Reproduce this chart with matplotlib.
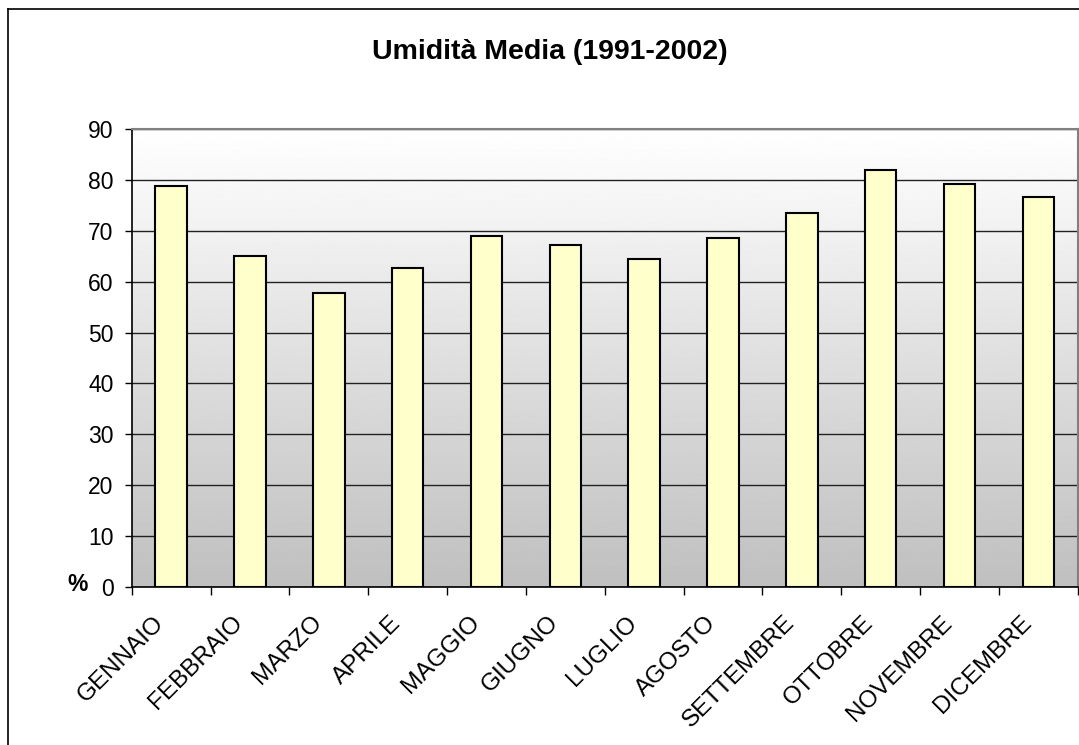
import numpy as np
import matplotlib.pyplot as plt
import matplotlib.transforms as mtransforms
from matplotlib.lines import Line2D

# Dati: umidità media mensile (%)
mesi = ['GENNAIO', 'FEBBRAIO', 'MARZO', 'APRILE', 'MAGGIO', 'GIUGNO',
        'LUGLIO', 'AGOSTO', 'SETTEMBRE', 'OTTOBRE', 'NOVEMBRE', 'DICEMBRE']
umidita = [78.8, 65.1, 57.8, 62.7, 69.0, 67.3, 64.4, 68.7, 73.5, 82.0, 79.2, 76.7]
y_ticks = [0, 10, 20, 30, 40, 50, 60, 70, 80, 90]

plt.rcParams['font.family'] = ['Liberation Sans', 'DejaVu Sans']

fig = plt.figure(figsize=(10.79, 7.45), dpi=100)
ax = fig.add_axes([0.1221, 0.2125, 0.8767, 0.6139])

x = np.arange(len(mesi))

# sfondo sfumato (bianco in alto, grigio in basso)
grad = np.linspace(1.0, 0.75, 256).reshape(-1, 1)
ax.imshow(grad, cmap='gray', vmin=0, vmax=1, aspect='auto',
          extent=[0, 1, 0, 1], transform=ax.transAxes, zorder=0)

ax.bar(x, umidita, width=0.4, color='#ffffcc', edgecolor='black',
       linewidth=1.5, zorder=3)

ax.set_xlim(-0.5, len(mesi) - 0.5)
ax.set_ylim(0, 90)
ax.set_yticks(y_ticks)
ax.yaxis.grid(True, color='#222222', linewidth=1.0, zorder=1)
ax.set_axisbelow(True)

ax.tick_params(axis='y', labelsize=16.5, length=5, width=1, pad=8, direction='out')

# etichette x centrate sulle barre, tacche tra le categorie
ax.set_xticks(x)
ax.set_xticklabels(mesi, rotation=45, ha='right', rotation_mode='anchor', fontsize=17.5)
ax.tick_params(axis='x', which='major', length=0, pad=18)
ax.set_xticks(np.arange(len(mesi) + 1) - 0.5, minor=True)
ax.tick_params(axis='x', which='minor', length=6, width=1, direction='out')
offset = mtransforms.ScaledTranslation(-13 / 72, 0, fig.dpi_scale_trans)
for lab in ax.get_xticklabels():
    lab.set_transform(lab.get_transform() + offset)

for s in ['left', 'bottom']:
    ax.spines[s].set_color('black')
    ax.spines[s].set_linewidth(1.2)
for s in ['top', 'right']:
    ax.spines[s].set_color('#808080')
    ax.spines[s].set_linewidth(1.5)

fig.text(0.5097, 0.930, 'Umidità Media (1991-2002)', ha='center', va='center',
         fontsize=20.5, fontweight='bold')
fig.text(0.072, 0.215, '%', ha='center', va='center', fontsize=16.5, fontweight='bold')

# bordo esterno del grafico
fig.add_artist(Line2D([8 / 1079, 8 / 1079], [0, 1 - 9 / 745], color='black', linewidth=1.2))
fig.add_artist(Line2D([8 / 1079, 1], [1 - 9 / 745, 1 - 9 / 745], color='black', linewidth=1.2))

plt.savefig('out.png', dpi=100)
